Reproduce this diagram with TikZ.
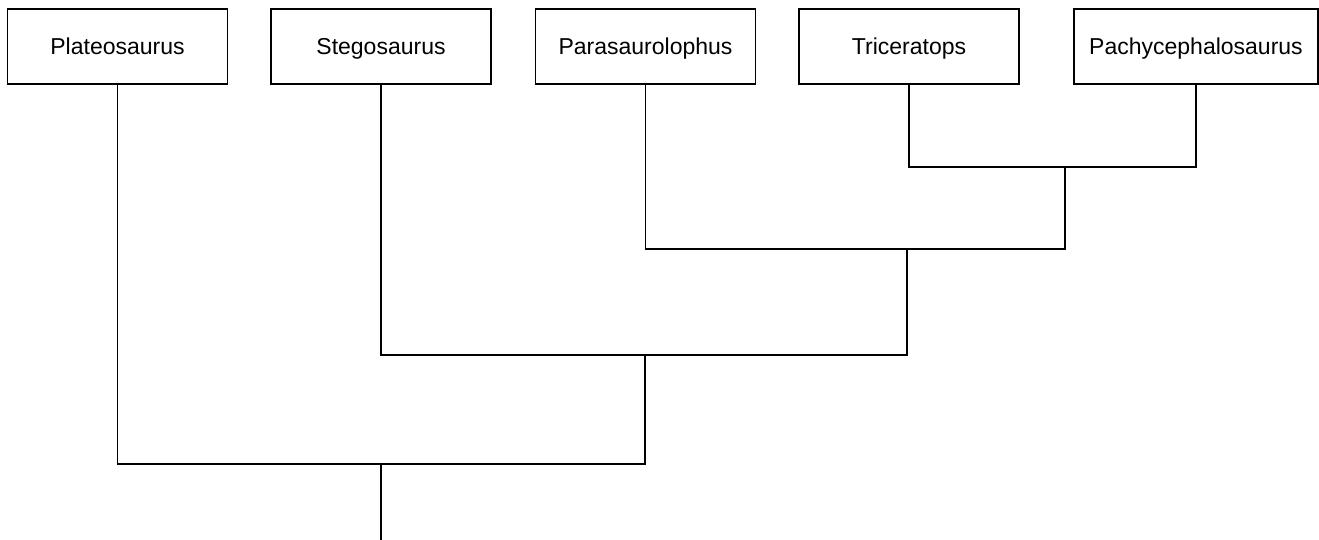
\documentclass[tikz,border=0pt]{standalone}
\usepackage{fontspec}
\setmainfont{Liberation Sans}
\usetikzlibrary{arrows, positioning, calc}

\begin{document}
\begin{tikzpicture}[x=0.5pt, y=-0.5pt, line width=0.9pt,
    taxon/.style={draw, inner sep=0pt, minimum width=110pt, minimum height=37.5pt,
        text height=8.2pt, text depth=0pt, font=\fontsize{11.5}{13}\selectfont}]

    \useasboundingbox (0, 0) rectangle (1319, 540);

    % The taxa
    \node (plat) [taxon] at (117.5, 46.5) {Plateosaurus};
    \node (steg) [taxon] at (381, 46.5) {Stegosaurus};
    \node (para) [taxon] at (645.5, 46.5) {Parasaurolophus};
    \node (tric) [taxon] at (909, 46.5) {Triceratops};
    \node (pach) [taxon, minimum width=122pt] at (1196, 46.5) {Pachycephalosaurus};

    % The branch points
    \coordinate (tp) at (1065, 167);
    \coordinate (ptp) at (907, 249);
    \coordinate (sptp) at (645, 355);
    \coordinate (root) at (381, 464);
    \coordinate (base) at (381, 540);

    % The tree
    \draw (tric) |- (tp) -| (pach);
    \draw (para) |- (ptp) -| (tp);
    \draw (steg) |- (sptp) -| (ptp);
    \draw (plat) |- (root) -| (sptp);
    \draw (root) -- (base);

\end{tikzpicture}
\end{document}
